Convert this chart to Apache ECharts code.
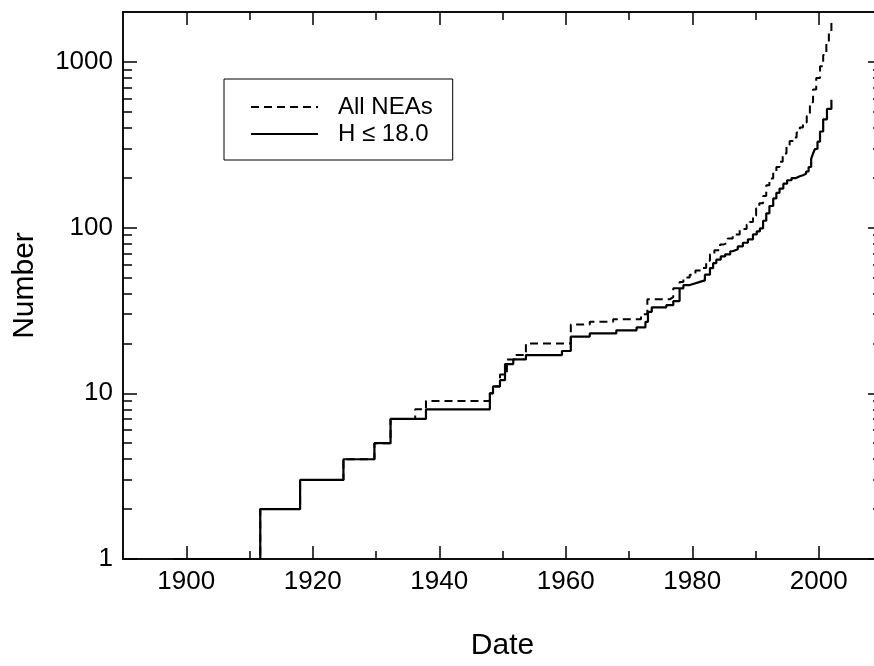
<!DOCTYPE html>
<html>
<head>
<meta charset="utf-8">
<script src="https://cdn.jsdelivr.net/npm/echarts@6/dist/echarts.min.js"></script>
<style>html,body{margin:0;padding:0;background:#fff;overflow:hidden;width:874px;height:666px;}#c{width:890px;height:666px;}</style>
</head>
<body>
<div id="c"></div>
<script>
// ---- data: [year at which the count steps to the value, count] ----
const allNEAsYears = [1898, 1911.7, 1918.0, 1924.85, 1929.75, 1932.3, 1936.2, 1937.9, 1948.0, 1948.5, 1949.6, 1950.7, 1952.0, 1953.7, 1960.8, 1963.8, 1967.5, 1971.9, 1972.9, 1976.5, 1977.0, 1978.0, 1978.6, 1979.6, 1980.5, 1981.5, 1982.2, 1982.8, 1983.5, 1984.4, 1984.9, 1985.6, 1986.4, 1987.5, 1988.6, 1989.1, 1989.6, 1990.1, 1990.6, 1991.2, 1991.7, 1992.2, 1992.8, 1993.3, 1993.8, 1994.3, 1994.9, 1995.4, 1995.9, 1996.5, 1997.0, 1997.5, 1998.1, 1998.6, 1999.1, 1999.6, 2000.2, 2000.7, 2001.2, 2001.6, 2002.0];
const allNEAsCounts = [1, 2, 3, 4, 5, 7, 8, 9, 10, 11, 13, 16, 17, 20, 26, 27, 28, 30, 37, 38, 43, 47, 50, 52, 55, 57, 63, 69, 73, 79, 81, 86, 91, 98, 104, 108, 118, 131, 140, 155, 180, 198, 216, 232, 250, 280, 315, 333, 350, 375, 402, 430, 472, 570, 682, 800, 941, 1100, 1287, 1500, 1750];

const brightYears = [1898, 1911.7, 1918.0, 1924.85, 1929.75, 1932.3, 1937.9, 1948.0, 1948.5, 1949.6, 1950.4, 1951.7, 1953.7, 1959.4, 1960.8, 1963.8, 1968.0, 1971.2, 1972.6, 1973.0, 1973.6, 1975.9, 1977.0, 1978.0, 1978.6, 1979.6, 1980.4, 1981.2, 1982.0, 1982.8, 1983.3, 1983.8, 1984.5, 1985.2, 1986.0, 1986.4, 1987.2, 1988.0, 1988.8, 1989.6, 1990.2, 1990.7, 1991.2, 1991.7, 1992.2, 1992.8, 1993.3, 1993.8, 1994.4, 1995.0, 1995.7, 1996.4, 1997.0, 1997.5, 1998.0, 1998.4, 1998.8, 1999.1, 1999.4, 1999.8, 2000.2, 2000.7, 2001.3, 2002.0];
const brightCounts = [1, 2, 3, 4, 5, 7, 8, 10, 11, 12, 15, 16, 17, 18, 22, 23, 24, 25, 27, 31, 33, 34, 36, 43, 45, 46, 47, 48, 52, 57, 61, 64, 67, 69, 72, 74, 77, 81, 85, 91, 95, 99, 110, 122, 135, 150, 162, 172, 184, 193, 199, 204, 207, 211, 218, 232, 260, 280, 298, 330, 380, 450, 520, 590];

const seriesNames = ['All NEAs', 'H \u2264 18.0'];
const xMajorTicks = [1900, 1920, 1940, 1960, 1980, 2000];
const xMinorTicks = [1910, 1930, 1950, 1970, 1990];
const yMajorTicks = [1, 10, 100, 1000];
const yMinorTicks = [2,3,4,5,6,7,8,9,20,30,40,50,60,70,80,90,200,300,400,500,600,700,800,900];
const xMin = 1890, xMax = 2010, yMin = 1, yMax = 2000;

// ---- chart ----
const FONT = '"Liberation Sans", Arial, Helvetica, sans-serif';
const lg = v => Math.log10(v);
const pair = (xs, ys) => xs.map((x, i) => [x, lg(ys[i])]);

function xAx(pos, ticks, len, labels) {
  return {
    type: 'value', position: pos, min: xMin, max: xMax,
    name: labels ? 'Date' : '', nameLocation: 'middle', nameGap: 72,
    nameTextStyle: {fontSize: 30, fontFamily: FONT, color: '#000'},
    axisLine: {show: true, onZero: false, lineStyle: {color: '#000', width: 1.5}},
    axisTick: {show: true, inside: true, length: len, customValues: ticks, lineStyle: {color: '#000', width: 1.5}},
    axisLabel: {show: labels, customValues: ticks, margin: 10, fontSize: 26, fontFamily: FONT, color: '#000',
      formatter: v => String(Math.round(v))},
    splitLine: {show: false}
  };
}
function yAx(pos, ticks, len, labels) {
  return {
    type: 'value', position: pos, min: lg(yMin), max: lg(yMax),
    name: labels ? 'Number' : '', nameLocation: 'middle', nameGap: 83,
    nameTextStyle: {fontSize: 30, fontFamily: FONT, color: '#000'},
    axisLine: {show: true, onZero: false, lineStyle: {color: '#000', width: 1.5}},
    axisTick: {show: true, inside: true, length: len, customValues: ticks.map(lg), lineStyle: {color: '#000', width: 1.5}},
    axisLabel: {show: labels, customValues: ticks.map(lg), margin: 10, fontSize: 26, fontFamily: FONT, color: '#000',
      formatter: v => String(Math.round(Math.pow(10, v)))},
    splitLine: {show: false}
  };
}

const chart = echarts.init(document.getElementById('c'), null, {renderer: 'canvas'});
chart.setOption({
  animation: false,
  backgroundColor: '#fff',
  grid: {left: 123, top: 12, right: 8, bottom: 101, containLabel: false},
  legend: {
    orient: 'vertical', left: 224, top: 79,
    padding: [16, 20, 14, 26], itemGap: 3,
    itemWidth: 67, itemHeight: 14,
    borderColor: '#000', borderWidth: 1,
    itemStyle: {opacity: 0},
    textStyle: {fontSize: 24, fontFamily: FONT, color: '#000', padding: [0, 0, 0, 15]},
    data: seriesNames
  },
  xAxis: [
    xAx('bottom', xMajorTicks, 13, true),
    xAx('bottom', xMinorTicks, 8, false),
    xAx('top', xMajorTicks, 13, false),
    xAx('top', xMinorTicks, 8, false)
  ],
  yAxis: [
    yAx('left', yMajorTicks, 14, true),
    yAx('left', yMinorTicks, 9, false),
    yAx('right', yMajorTicks, 14, false),
    yAx('right', yMinorTicks, 9, false)
  ],
  series: [
    {name: seriesNames[0], type: 'line', step: 'end', symbol: 'none', xAxisIndex: 0, yAxisIndex: 0,
     lineStyle: {color: '#000', width: 2, type: [8, 5]}, itemStyle: {color: '#000'},
     data: pair(allNEAsYears, allNEAsCounts)},
    {name: seriesNames[1], type: 'line', step: 'end', symbol: 'none', xAxisIndex: 0, yAxisIndex: 0,
     lineStyle: {color: '#000', width: 2.2, type: 'solid'}, itemStyle: {color: '#000'},
     data: pair(brightYears, brightCounts)}
  ]
});
</script>
</body>
</html>
